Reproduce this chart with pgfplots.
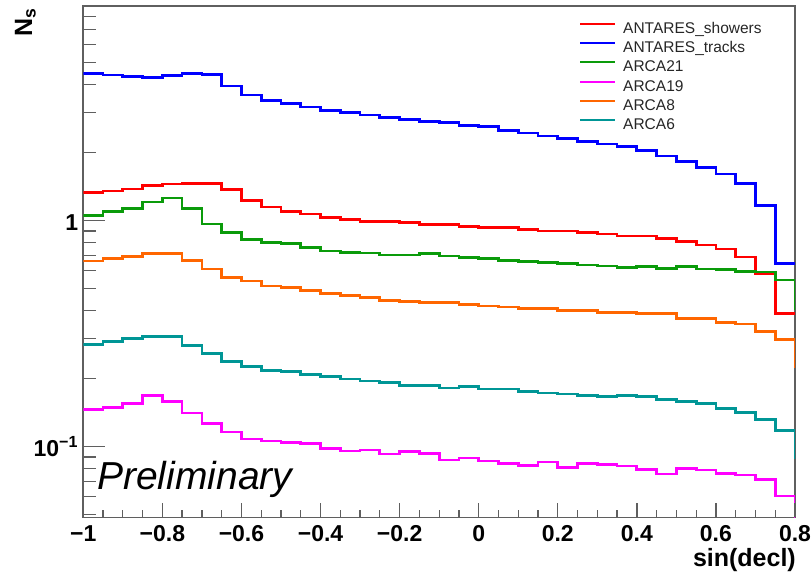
\documentclass[border=0pt]{standalone}
\usepackage{pgfplots}
\pgfplotsset{compat=1.18}
\usepackage{pgfplotstable}
\usepackage{fontspec}
\setmainfont{Liberation Sans}
\definecolor{hred}{RGB}{255,0,0}
\definecolor{hblue}{RGB}{0,0,255}
\definecolor{hgreen}{RGB}{10,155,10}
\definecolor{hmag}{RGB}{255,0,255}
\definecolor{horange}{RGB}{255,102,0}
\definecolor{hteal}{RGB}{0,150,150}
\definecolor{frame}{RGB}{95,95,95}

\pgfplotstableread{
x     red   blue  green  magenta orange teal
-1.00 1.33  4.46  1.05   0.146   0.663  0.284
-0.95 1.35  4.40  1.10   0.149   0.682  0.292
-0.90 1.38  4.35  1.135  0.155   0.693  0.300
-0.85 1.43  4.31  1.21   0.168   0.717  0.307
-0.80 1.45  4.37  1.26   0.158   0.717  0.307
-0.75 1.46  4.49  1.135  0.141   0.665  0.281
-0.70 1.46  4.43  0.967  0.127   0.61   0.259
-0.65 1.37  3.94  0.889  0.116   0.56   0.238
-0.60 1.23  3.60  0.822  0.108   0.541  0.227
-0.55 1.15  3.41  0.80   0.106   0.514  0.218
-0.50 1.10  3.29  0.79   0.104   0.505  0.215
-0.45 1.07  3.18  0.76   0.103   0.490  0.209
-0.40 1.03  3.07  0.734  0.0984  0.477  0.204
-0.35 1.01  3.00  0.722  0.0957  0.466  0.1995
-0.30 0.99  2.93  0.718  0.0967  0.458  0.195
-0.25 0.99  2.86  0.705  0.0929  0.443  0.192
-0.20 0.98  2.81  0.705  0.095   0.438  0.187
-0.15 0.96  2.75  0.715  0.0935  0.434  0.187
-0.10 0.96  2.71  0.698  0.0873  0.434  0.182
-0.05 0.94  2.64  0.689  0.089   0.424  0.184
0.00  0.93  2.60  0.682  0.0864  0.419  0.180
0.05  0.93  2.51  0.665  0.0845  0.415  0.180
0.10  0.916 2.44  0.659  0.0827  0.409  0.175
0.15  0.90  2.37  0.652  0.0855  0.409  0.173
0.20  0.90  2.31  0.645  0.081   0.40   0.171
0.25  0.885 2.24  0.637  0.0845  0.40   0.168
0.30  0.873 2.18  0.630  0.0836  0.392  0.167
0.35  0.855 2.13  0.619  0.0822  0.392  0.168
0.40  0.855 2.04  0.626  0.0794  0.387  0.167
0.45  0.836 1.93  0.616  0.0757  0.387  0.162
0.50  0.81  1.83  0.626  0.0802  0.370  0.158
0.55  0.78  1.72  0.611  0.0788  0.370  0.155
0.60  0.75  1.61  0.608  0.0762  0.354  0.148
0.65  0.69  1.46  0.595  0.0750  0.349  0.142
0.70  0.580 1.17  0.592  0.0717  0.323  0.132
0.75  0.389 0.648 0.546  0.0605  0.297  0.118
0.80  0.389 0.648 0.402  0.01    0.222  0.088
}\histdata

\begin{document}
\begin{tikzpicture}
\useasboundingbox (0bp,0bp) rectangle (812bp,573bp);
% main axis: data, y ticks, legend
\begin{axis}[
  at={(83.3bp,55.7bp)}, anchor=south west,
  scale only axis, width=711.7bp, height=511.3bp,
  xmin=-1, xmax=0.8,
  ymode=log, ymin=0.0487, ymax=8.9,
  axis line style={draw=frame, line width=1.6bp},
  xtick=\empty,
  ytick={0.1,1},
  yticklabels={10\textsuperscript{−1},1},
  minor ytick={0.05,0.06,0.07,0.08,0.09,0.2,0.3,0.4,0.5,0.6,0.7,0.8,0.9,2,3,4,5,6,7,8},
  ytick pos=left,
  tick align=inside,
  major tick length=21.7bp, minor tick length=12.3bp,
  tick style={draw=frame, line width=1.3bp},
  yticklabel style={font=\bfseries\fontsize{23bp}{23bp}\selectfont, anchor=base east, inner sep=0pt, xshift=-5bp, yshift=-10bp},
  legend style={draw=none, fill=none, at={(0.6965,0.971)}, anchor=north west,
    font=\fontsize{15.5bp}{15.5bp}\selectfont, text=black!85, inner sep=0pt,
    row sep=2.2bp, column sep=6bp,
    nodes={inner sep=1bp, text height=11.5bp, text depth=3.5bp}},
  legend cell align=left,
  legend image code/.code={\draw[#1, line width=2bp] (0bp,5.5bp) -- (35bp,5.5bp);},
  every axis plot/.append style={line width=2.7bp, const plot mark left, mark=none},
]
\addplot[hred] table[x=x, y=red] {\histdata};
\addlegendentry{ANTARES\_showers}
\addplot[hblue] table[x=x, y=blue] {\histdata};
\addlegendentry{ANTARES\_tracks}
\addplot[hgreen] table[x=x, y=green] {\histdata};
\addlegendentry{ARCA21}
\addplot[hmag] table[x=x, y=magenta] {\histdata};
\addlegendentry{ARCA19}
\addplot[horange] table[x=x, y=orange] {\histdata};
\addlegendentry{ARCA8}
\addplot[hteal] table[x=x, y=teal] {\histdata};
\addlegendentry{ARCA6}
\end{axis}
% second axis: x ticks and labels
\begin{axis}[
  at={(83.3bp,55.7bp)}, anchor=south west,
  scale only axis, width=711.7bp, height=511.3bp,
  xmin=-1, xmax=0.8, ymin=0, ymax=1,
  axis line style={draw=none},
  ytick=\empty,
  xtick={-1,-0.8,-0.6,-0.4,-0.2,0,0.2,0.4,0.6,0.8},
  xticklabels={−1,−0.8,−0.6,−0.4,−0.2,0,0.2,0.4,0.6,0.8},
  minor x tick num=3,
  xtick pos=left,
  tick align=inside,
  major tick length=14.7bp, minor tick length=7.3bp,
  tick style={draw=frame, line width=1.3bp},
  xticklabel style={font=\bfseries\fontsize{23bp}{23bp}\selectfont, anchor=base, inner sep=0pt, yshift=-24.4bp},
]
\end{axis}
\node[anchor=base east, inner sep=0pt, font=\bfseries\fontsize{25bp}{25bp}\selectfont] at (796bp,6.3bp) {sin(decl)};
\node[rotate=90, anchor=base east, inner sep=0pt, font=\bfseries\fontsize{25bp}{25bp}\selectfont] at (32bp,565bp) {N\textsubscript{s}};
\node[anchor=base west, inner sep=0pt, font=\itshape\fontsize{39bp}{39bp}\selectfont] at (97bp,83bp) {Preliminary};
\end{tikzpicture}
\end{document}
